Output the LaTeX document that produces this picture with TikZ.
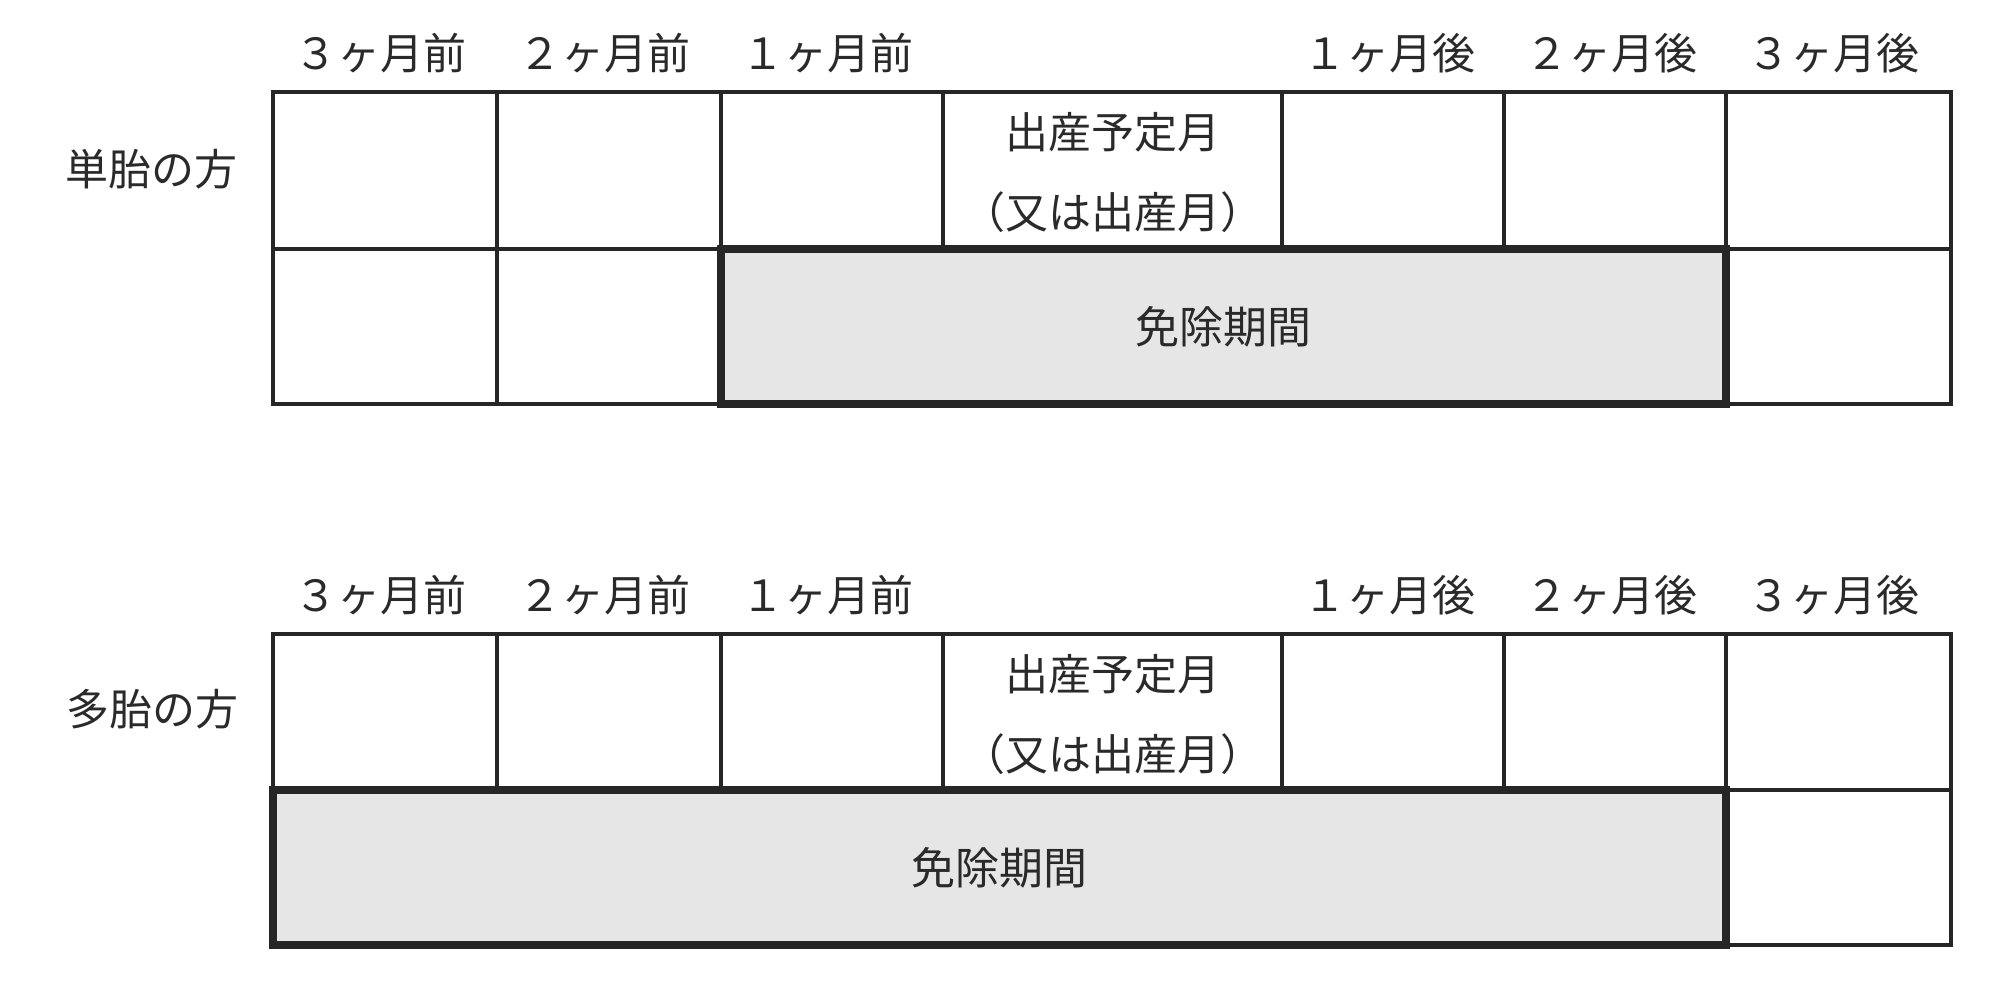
\documentclass[tikz,border=0pt]{standalone}
\usepackage{fontspec}
\newfontfamily\jpfont{Noto Sans CJK JP}
\definecolor{linec}{HTML}{262626}
\definecolor{textc}{HTML}{2A2A2A}
\definecolor{shade}{HTML}{E6E6E6}
\newcommand{\cellbox}[6]{%
  \pgfmathsetmacro\cbw{(#5-#3)/2}%
  \pgfmathsetmacro\cbh{(#6-#4)/2}%
  \node[#1,minimum width=\cbw pt,minimum height=\cbh pt] (#2) at ({(#3+#5)/2},{(#4+#6)/2}) {};}
\begin{document}
\begin{tikzpicture}[x=0.5pt,y=-0.5pt,
  cell/.style={draw=linec,line width=1.7pt,fill=white,rectangle,inner sep=0pt},
  exempt/.style={draw=linec,line width=3.6pt,fill=shade,rectangle,inner sep=0pt},
  lbl/.style={text=textc,inner sep=0pt,font=\jpfont\fontsize{21.5pt}{26pt}\selectfont},
  mid/.style={lbl,align=center,font=\jpfont\fontsize{21.5pt}{40pt}\selectfont},
  big/.style={text=textc,inner sep=0pt,font=\jpfont\fontsize{22pt}{26pt}\selectfont}]
\fill[white] (0,0) rectangle (2000,980);
\useasboundingbox (0,0) rectangle (2000,980);
% ---------- single birth ----------
\cellbox{cell}{a11}{273}{92}{497}{249}
\cellbox{cell}{a12}{497}{92}{721}{249}
\cellbox{cell}{a13}{721}{92}{943}{249}
\cellbox{cell}{a14}{943}{92}{1282}{249}
\cellbox{cell}{a15}{1282}{92}{1504}{249}
\cellbox{cell}{a16}{1504}{92}{1726}{249}
\cellbox{cell}{a17}{1726}{92}{1951}{249}
\cellbox{cell}{a21}{273}{249}{497}{404}
\cellbox{cell}{a22}{497}{249}{721}{404}
\cellbox{cell}{a27}{1726}{249}{1951}{404}
\cellbox{exempt}{aex}{721}{249}{1726}{404}
\node[lbl] (ah1) at (380,53) {３ヶ月前};
\node[lbl] (ah2) at (604,53) {２ヶ月前};
\node[lbl] (ah3) at (827,53) {１ヶ月前};
\node[lbl] (ah5) at (1389,53) {１ヶ月後};
\node[lbl] (ah6) at (1611,53) {２ヶ月後};
\node[lbl] (ah7) at (1833,53) {３ヶ月後};
\node[lbl] (arow) at (151,169) {単胎の方};
\node[mid] (amid) at (a14.center) [yshift=-1.2pt] {出産予定月\\（又は出産月）};
\node[big] (aext) at (aex.center) {免除期間};
% ---------- multiple birth ----------
\cellbox{cell}{b11}{273}{634}{497}{790}
\cellbox{cell}{b12}{497}{634}{721}{790}
\cellbox{cell}{b13}{721}{634}{943}{790}
\cellbox{cell}{b14}{943}{634}{1282}{790}
\cellbox{cell}{b15}{1282}{634}{1504}{790}
\cellbox{cell}{b16}{1504}{634}{1726}{790}
\cellbox{cell}{b17}{1726}{634}{1951}{790}
\cellbox{cell}{b27}{1726}{790}{1951}{945}
\cellbox{exempt}{bex}{273}{790}{1726}{945}
\node[lbl] (bh1) at (380,595) {３ヶ月前};
\node[lbl] (bh2) at (604,595) {２ヶ月前};
\node[lbl] (bh3) at (827,595) {１ヶ月前};
\node[lbl] (bh5) at (1389,595) {１ヶ月後};
\node[lbl] (bh6) at (1611,595) {２ヶ月後};
\node[lbl] (bh7) at (1833,595) {３ヶ月後};
\node[lbl] (brow) at (152,709) {多胎の方};
\node[mid] (bmid) at (b14.center) [yshift=-1.2pt] {出産予定月\\（又は出産月）};
\node[big] (bext) at (bex.center) {免除期間};
\end{tikzpicture}
\end{document}
